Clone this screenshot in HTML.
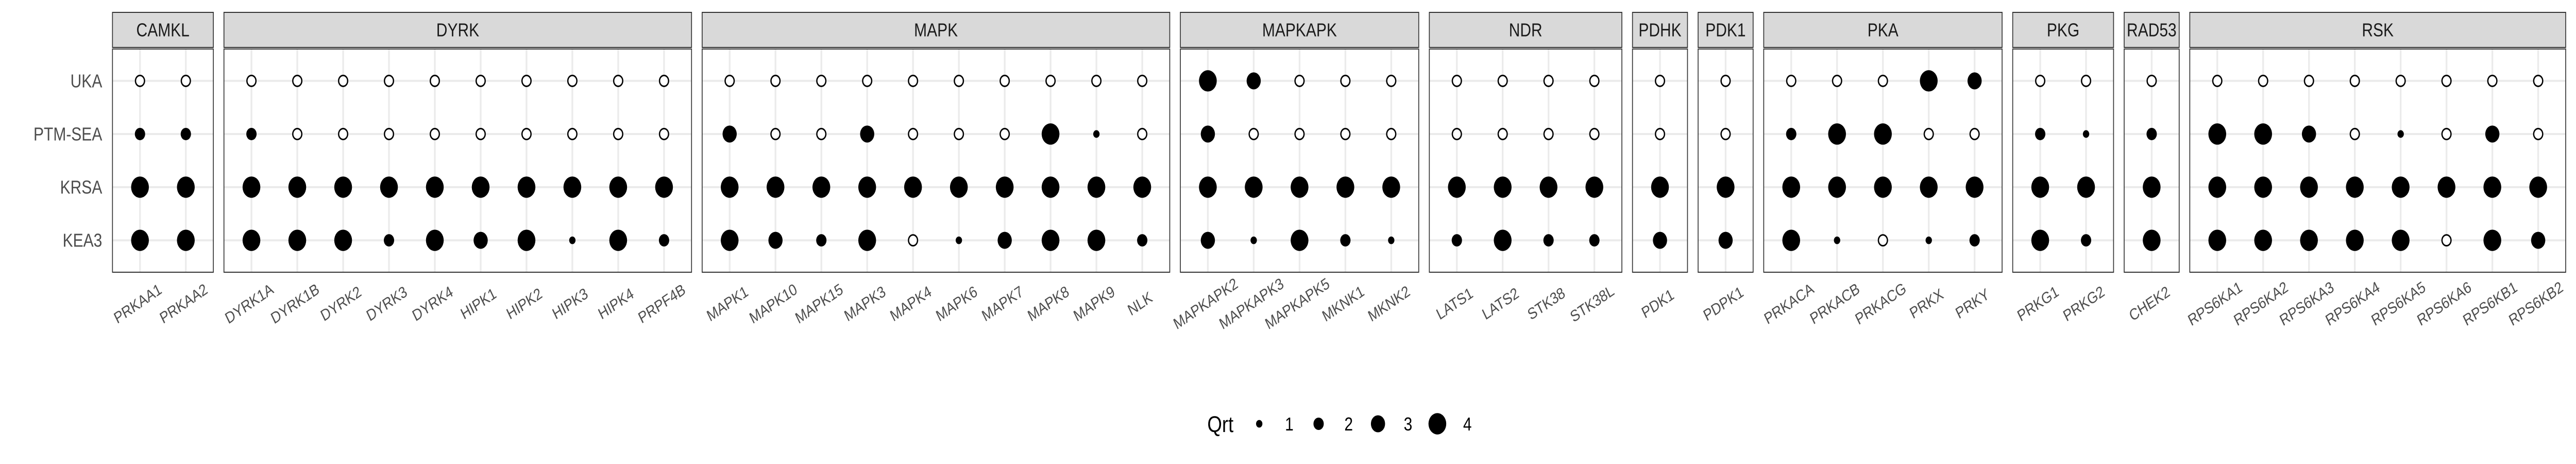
<!DOCTYPE html>
<html><head><meta charset="utf-8"><style>
html,body{margin:0;padding:0;background:#fff;width:100%;height:100%;overflow:hidden}
svg{display:block;width:100vw;height:100vh}
</style></head><body>
<svg id="chart" viewBox="0 0 6000 900" preserveAspectRatio="none" xmlns="http://www.w3.org/2000/svg" font-family="Liberation Sans, sans-serif" overflow="hidden"></svg>
<script>
const families = ["CAMKL","DYRK","MAPK","MAPKAPK","NDR","PDHK","PDK1","PKA","PKG","RAD53","RSK"];
const familyCounts = [2,10,10,5,4,1,1,5,2,1,8];
const kinases = ["PRKAA1","PRKAA2",
 "DYRK1A","DYRK1B","DYRK2","DYRK3","DYRK4","HIPK1","HIPK2","HIPK3","HIPK4","PRPF4B",
 "MAPK1","MAPK10","MAPK15","MAPK3","MAPK4","MAPK6","MAPK7","MAPK8","MAPK9","NLK",
 "MAPKAPK2","MAPKAPK3","MAPKAPK5","MKNK1","MKNK2",
 "LATS1","LATS2","STK38","STK38L",
 "PDK1","PDPK1",
 "PRKACA","PRKACB","PRKACG","PRKX","PRKY",
 "PRKG1","PRKG2","CHEK2",
 "RPS6KA1","RPS6KA2","RPS6KA3","RPS6KA4","RPS6KA5","RPS6KA6","RPS6KB1","RPS6KB2"];
const methods = ["UKA","PTM-SEA","KRSA","KEA3"];
const qrtUKA  = [0,0, 0,0,0,0,0,0,0,0,0,0, 0,0,0,0,0,0,0,0,0,0, 4,3,0,0,0, 0,0,0,0, 0, 0, 0,0,0,4,3, 0,0, 0, 0,0,0,0,0,0,0,0];
const qrtPTM  = [2,2, 2,0,0,0,0,0,0,0,0,0, 3,0,0,3,0,0,0,4,1,0, 3,0,0,0,0, 0,0,0,0, 0, 0, 2,4,4,0,0, 2,1, 2, 4,4,3,0,1,0,3,0];
const qrtKRSA = [4,4, 4,4,4,4,4,4,4,4,4,4, 4,4,4,4,4,4,4,4,4,4, 4,4,4,4,4, 4,4,4,4, 4, 4, 4,4,4,4,4, 4,4, 4, 4,4,4,4,4,4,4,4];
const qrtKEA3 = [4,4, 4,4,4,2,4,3,4,1,4,2, 4,3,2,4,0,1,3,4,4,2, 3,1,4,2,1, 2,4,2,2, 3, 3, 4,1,0,1,2, 4,2, 4, 4,4,4,4,4,0,4,3];
const legendValues = [1,2,3,4];

const NS="http://www.w3.org/2000/svg";
const svg=document.getElementById('chart');
function mk(tag,attrs,parent){const e=document.createElementNS(NS,tag);for(const k in attrs)e.setAttribute(k,attrs[k]);(parent||svg).appendChild(e);return e;}

const LEFT=262, RIGHT=5976, GAP=24.7, PTOP=95, PBOT=528, STOP=24, SBOT=92;
const totalUnits=familyCounts.reduce((a,n)=>a+n-1+1.2,0);
const step=(RIGHT-LEFT-GAP*(families.length-1))/totalUnits;
const ystep=(PBOT-PTOP)/4.2;
function yPos(i){return PTOP+(0.6+i)*ystep;}
function rSize(q){return [0,7.4,12,16.5,20.7][q];}
const rows=[qrtUKA,qrtPTM,qrtKRSA,qrtKEA3];

methods.forEach((m,i)=>{
  const t=mk('text',{x:238,y:yPos(i)+12.5,'text-anchor':'end','font-size':36,fill:'#4d4d4d'});
  
  
  t.textContent=m;
});

let x0=LEFT, k=0;
families.forEach((fam,fi)=>{
  const n=familyCounts[fi];
  const w=(n-1+1.2)*step;
  const g=mk('g',{});
  
  
  const bg=mk('rect',{x:x0,y:PTOP,width:w,height:PBOT-PTOP,fill:'#fff'},g);
  
  
  methods.forEach((m,i)=>{
    const l=mk('line',{x1:x0,x2:x0+w,y1:yPos(i),y2:yPos(i),stroke:'#ebebeb','stroke-width':4},g);
    
    
  });
  for(let j=0;j<n;j++){
    const cx=x0+(0.6+j)*step;
    const l=mk('line',{x1:cx,x2:cx,y1:PTOP,y2:PBOT,stroke:'#ebebeb','stroke-width':4},g);
    
    
  }
  for(let j=0;j<n;j++,k++){
    const cx=x0+(0.6+j)*step;
    rows.forEach((row,i)=>{
      const q=row[k];
      let c;
      if(q===0){c=mk('circle',{cx:cx,cy:yPos(i),r:10.5,fill:'#fff',stroke:'#000','stroke-width':3},g);}
      else{c=mk('circle',{cx:cx,cy:yPos(i),r:rSize(q),fill:'#000'},g);}
      
      
    });
    const ty=598;
    const t=mk('text',{x:cx,y:ty,'text-anchor':'middle','font-size':31,fill:'#4d4d4d',transform:'rotate(-30 '+cx+' '+ty+')'});
    
    
    t.textContent=kinases[k];
  }
  const br=mk('rect',{x:x0,y:PTOP,width:w,height:PBOT-PTOP,fill:'none',stroke:'#333','stroke-width':2},g);
  
  
  const st=mk('rect',{x:x0,y:STOP,width:w,height:SBOT-STOP,fill:'#d9d9d9',stroke:'#333','stroke-width':2},g);
  
  
  const stt=mk('text',{x:x0+w/2,y:(STOP+SBOT)/2+12.5,'text-anchor':'middle','font-size':36,fill:'#1a1a1a'},g);
  
  
  stt.textContent=fam;
  x0+=w+GAP;
});

const lg=mk('g',{});


const lt=mk('text',{x:2812,y:838,'font-size':44,fill:'#000'},lg);


lt.textContent='Qrt';
const keyX0=2933, keyStep=138.3;
legendValues.forEach((v,i)=>{
  const cx=keyX0+i*keyStep;
  const c=mk('circle',{cx:cx,cy:822,r:rSize(v),fill:'#000'},lg);
  
  
  const t=mk('text',{x:cx+60,y:835,'font-size':36,fill:'#000'},lg);
  
  
  t.textContent=String(v);
});
</script>
</body></html>
